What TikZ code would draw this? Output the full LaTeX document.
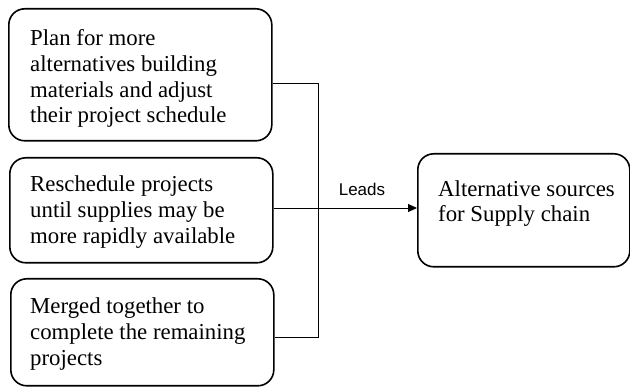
\documentclass[tikz,border=0pt]{standalone}
\usepackage{fontspec}
\setmainfont{Liberation Serif}
\newfontfamily\leadsfont{Liberation Sans}
\usetikzlibrary{arrows.meta}
\begin{document}
\begin{tikzpicture}[x=1pt,y=-1pt,
  box/.style={draw, line width=1.6pt, rounded corners=16pt, anchor=north west, inner sep=0pt},
  txt/.style={anchor=base west, inner sep=0pt, align=left,
    font=\fontsize{22.8}{25.8}\selectfont},
  conn/.style={line width=0.8pt}]
\useasboundingbox (0,0) rectangle (630,387);
\node[box, minimum width=263pt, minimum height=132pt] (b1) at (8,8) {};
\node[box, minimum width=263pt, minimum height=105pt] (b2) at (9,157) {};
\node[box, minimum width=263pt, minimum height=107pt] (b3) at (10,278) {};
\node[box, minimum width=212pt, minimum height=113pt] (b4) at (417,153) {};
\node[txt] (t1) at (30,123) {Plan for more\\alternatives building\\materials and adjust\\their project schedule};
\node[txt] (t2) at (30,243.5) {Reschedule projects\\until supplies may be\\more rapidly available};
\node[txt] (t3) at (30,365.5) {Merged together to\\complete the remaining\\projects};
\node[txt] (t4) at (438,222) {Alternative sources\\for Supply chain};
\coordinate (j1) at (318,83);
\coordinate (j3) at (318,337);
\coordinate (j2) at (318,208);
\draw[conn] (b1.east |- j1) -- (j1) -- (j3) -- (b3.east |- j3);
\draw[conn] (b2.east |- j2) -- (j2);
\draw[conn, -{Triangle[length=9pt,width=8pt]}] (j2) -- (b4.west |- j2);
\node[font=\leadsfont\fontsize{17}{20}\selectfont, inner sep=0pt] (lab) at (362,189) {Leads};
\end{tikzpicture}
\end{document}
